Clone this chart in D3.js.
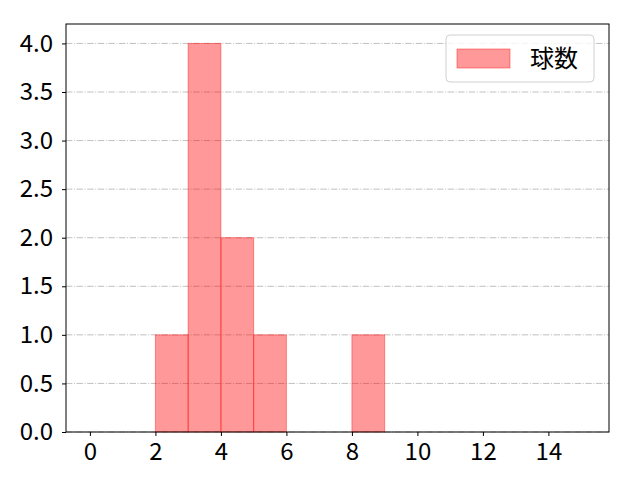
<!DOCTYPE html>
<html>
<head>
<meta charset="utf-8">
<script src="https://cdn.jsdelivr.net/npm/d3@7"></script>
<style>
  body { margin: 0; background: #fff; }
</style>
</head>
<body>
<svg id="chart" width="640" height="480"></svg>
<script>
"use strict";

// ===== Data =====
const binStarts = [2, 3, 4, 5, 8];
const binCounts = [1, 4, 2, 1, 1];
const binWidth = 1;
const xTicks = [0, 2, 4, 6, 8, 10, 12, 14];
const yTicks = [0, 0.5, 1.0, 1.5, 2.0, 2.5, 3.0, 3.5, 4.0];
const seriesName = "球数";

const FONT = "'Noto Sans CJK JP', 'Noto Sans', sans-serif";
const FONT_SIZE = 24;

// ===== Layout =====
const margin = { top: 24, right: 31, bottom: 48, left: 66 };
const width = 640 - margin.left - margin.right;
const height = 480 - margin.top - margin.bottom;

const svg = d3.select("#chart");
const g = svg.append("g").attr("transform", `translate(${margin.left},${margin.top})`);

const x = d3.scaleLinear().domain([-0.73, 15.85]).range([0, width]);
const y = d3.scaleLinear().domain([0, 4.2]).range([height, 0]);

// Horizontal grid (dash-dot)
g.append("g").selectAll("line")
  .data(yTicks)
  .join("line")
  .attr("x1", 0).attr("x2", width)
  .attr("y1", d => y(d)).attr("y2", d => y(d))
  .attr("stroke", "#b0b0b0")
  .attr("stroke-width", 0.8)
  .attr("stroke-dasharray", "6.4,1.6,1,1.6");

// Bars
g.append("g").selectAll("rect")
  .data(binStarts.map((s, i) => ({ s, c: binCounts[i] })))
  .join("rect")
  .attr("x", d => x(d.s))
  .attr("y", d => y(d.c))
  .attr("width", d => x(d.s + binWidth) - x(d.s))
  .attr("height", d => y(0) - y(d.c))
  .attr("fill", "rgba(255,0,0,0.4)")
  .attr("stroke", "rgba(255,0,0,0.4)")
  .attr("stroke-width", 1);

// Axes
const xAxis = g.append("g")
  .attr("transform", `translate(0,${height})`)
  .call(d3.axisBottom(x).tickValues(xTicks).tickSize(4).tickPadding(7).tickFormat(d3.format("d")));
const yAxis = g.append("g")
  .call(d3.axisLeft(y).tickValues(yTicks).tickSize(4).tickPadding(9).tickFormat(d3.format(".1f")));

[xAxis, yAxis].forEach(a => {
  a.attr("font-size", FONT_SIZE).attr("font-family", FONT);
  a.select(".domain").remove();
  a.selectAll("line").attr("stroke", "#000").attr("stroke-width", 1);
  a.selectAll("text").attr("fill", "#000");
});

// Frame
g.append("rect")
  .attr("width", width).attr("height", height)
  .attr("fill", "none").attr("stroke", "#000").attr("stroke-width", 1);

// Legend
const lg = g.append("g").attr("transform", `translate(${width - 163},${11})`);
lg.append("rect")
  .attr("width", 148).attr("height", 47)
  .attr("rx", 4)
  .attr("fill", "rgba(255,255,255,0.8)")
  .attr("stroke", "#d0d0d0");
lg.append("rect")
  .attr("x", 11).attr("y", 14).attr("width", 53).attr("height", 19)
  .attr("fill", "rgba(255,0,0,0.4)")
  .attr("stroke", "rgba(255,0,0,0.4)");
lg.append("text")
  .attr("x", 84).attr("y", 24).attr("dy", "0.35em")
  .attr("font-family", FONT)
  .attr("font-size", FONT_SIZE)
  .text(seriesName);
</script>
</body>
</html>
